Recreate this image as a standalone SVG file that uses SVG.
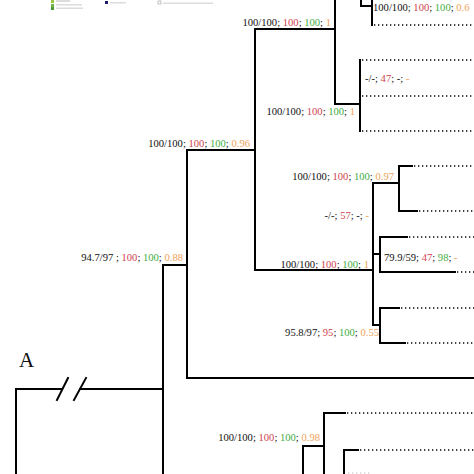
<svg xmlns="http://www.w3.org/2000/svg" width="474" height="474" viewBox="0 0 474 474">
<style>
.b{fill:none;stroke:#000;stroke-width:2;stroke-linecap:square}
.d{fill:none;stroke:#000;stroke-width:1.3;stroke-dasharray:1.3 2.7}
text{font-family:"Liberation Serif","Times New Roman",serif;font-size:10.6px;fill:#111}
.r{fill:#d0434f}.g{fill:#3fae3f}.o{fill:#f0a35a}
.lg{fill:#dcdcdc}
</style>
<rect width="474" height="474" fill="#fff"/>
<g id="legend">
<rect x="51" y="0" width="3" height="3" fill="#9bc53d"/>
<rect x="51" y="4" width="3" height="3" fill="#6bb34a"/>
<rect x="51" y="7" width="3" height="3" fill="#4c9a3a"/>
<rect x="56" y="0" width="14" height="2" class="lg"/>
<rect x="56" y="4" width="26" height="1.5" class="lg"/>
<rect x="56" y="7.5" width="27" height="1.5" class="lg"/>
<rect x="105" y="1" width="3" height="3" fill="#1a1a6e"/>
<rect x="110" y="2" width="16" height="1.5" class="lg"/>
<rect x="158" y="1" width="3" height="3" fill="none" stroke="#999" stroke-width="0.6"/>
<rect x="163" y="2.5" width="50" height="1.5" class="lg"/>
</g>
<g id="connectors">
<!-- root -->
<path class="b" d="M16,474 V389 H62 M80,389 H163"/>
<path class="b" d="M57,400 L68,378 M74,400 L86,378"/>
<path class="b" d="M163,474 V265 H187"/>
<path class="b" d="M474,378 H187 V150 H255"/>
<path class="b" d="M335,29 H255 V270 H373"/>
<path class="b" d="M335,0 V104 H360"/>
<path class="b" d="M360,60 V131"/>
<path class="d" d="M362,60 H474 M362,96 H474 M362,131 H474"/>
<path class="b" d="M361,0 V6 H372 M372,0 V25"/>
<path class="d" d="M374,25 H474"/>
<!-- lower clade -->
<path class="b" d="M373,183 V325 H380"/>
<path class="b" d="M373,183 H399 M399,166 V211"/>
<path class="b" d="M399,166 H412 M399,211 H417"/>
<path class="d" d="M414,166 H474 M419,211 H474"/>
<path class="b" d="M373,254 H380 M380,237 V272 M380,237 H407 M380,272 H455"/>
<path class="d" d="M409,237 H474 M457,272 H474"/>
<path class="b" d="M380,308 V343 M380,308 H399 M380,343 H405"/>
<path class="d" d="M401,308 H474 M407,343 H474"/>
<!-- bottom clade -->
<path class="b" d="M303,474 V446 H324 M324,474 V413 H345"/>
<path class="d" d="M347,413 H474"/>
<path class="b" d="M344,474 V450 H358"/>
<path class="d" d="M360,450 H474"/>
<path d="M348,473 H372" stroke="#bbb" stroke-width="1.2" stroke-dasharray="1.3 2.7"/>
</g>
<g id="labels">
<text x="373" y="11">100/100; <tspan class="r">100</tspan>; <tspan class="g">100</tspan>; <tspan class="o">0.6</tspan></text>
<text x="331" y="26" text-anchor="end">100/100; <tspan class="r">100</tspan>; <tspan class="g">100</tspan>; <tspan class="o">1</tspan></text>
<text x="365" y="82">-/-; <tspan class="r">47</tspan>; -; <tspan class="o">-</tspan></text>
<text x="355" y="115" text-anchor="end">100/100; <tspan class="r">100</tspan>; <tspan class="g">100</tspan>; <tspan class="o">1</tspan></text>
<text x="250" y="147" text-anchor="end">100/100; <tspan class="r">100</tspan>; <tspan class="g">100</tspan>; <tspan class="o">0.96</tspan></text>
<text x="394" y="180" text-anchor="end">100/100; <tspan class="r">100</tspan>; <tspan class="g">100</tspan>; <tspan class="o">0.97</tspan></text>
<text x="369" y="219" text-anchor="end">-/-; <tspan class="r">57</tspan>; -; <tspan class="o">-</tspan></text>
<text x="384" y="261">79.9/59; <tspan class="r">47</tspan>; <tspan class="g">98</tspan>; <tspan class="o">-</tspan></text>
<text x="183" y="261" text-anchor="end">94.7/97 ; <tspan class="r">100</tspan>; <tspan class="g">100</tspan>; <tspan class="o">0.88</tspan></text>
<text x="369" y="268" text-anchor="end">100/100; <tspan class="r">100</tspan>; <tspan class="g">100</tspan>; <tspan class="o">1</tspan></text>
<text x="379" y="336" text-anchor="end">95.8/97; <tspan class="r">95</tspan>; <tspan class="g">100</tspan>; <tspan class="o">0.55</tspan></text>
<text x="320" y="441" text-anchor="end">100/100; <tspan class="r">100</tspan>; <tspan class="g">100</tspan>; <tspan class="o">0.98</tspan></text>
<text x="19" y="367" style="font-size:21px">A</text>
</g>
</svg>
